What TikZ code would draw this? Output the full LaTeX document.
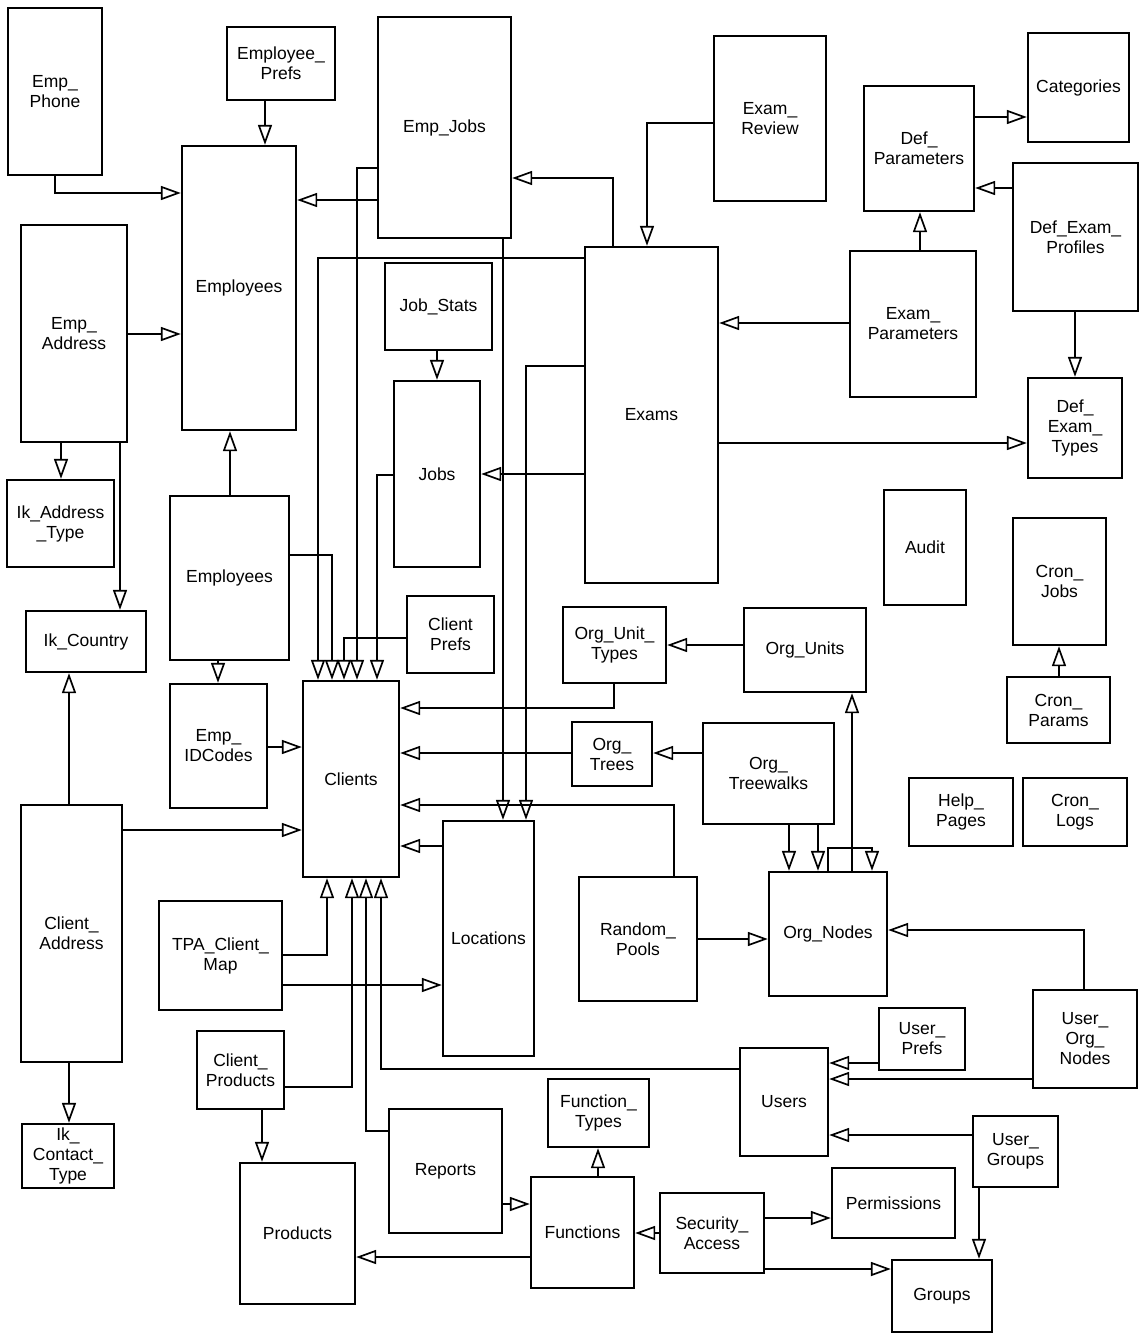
\documentclass[tikz,border=0pt]{standalone}
\usepackage{fontspec}
\setmainfont{Liberation Sans}
\usetikzlibrary{arrows.meta}
\newcommand\ent[6]{\node[ent, minimum width={#4-#2}, minimum height={#5-#3}] (#1) at ({(#2+#4)/2},{(#3+#5)/2}) {#6};}
\begin{document}
\begin{tikzpicture}[x=1pt,y=-1pt,
  ent/.style={draw, line width=2.4pt, inner sep=0pt, align=center, font=\fontsize{17.5}{20}\selectfont},
  conn/.style={line width=2.1pt, -{Triangle[length=20pt,width=14pt,fill=white,line width=1.7pt]}}]
\useasboundingbox (0,0) rectangle (1139,1342);
% entities
\ent{EmpPhone}{8}{8}{102}{175}{Emp\_\\Phone}
\ent{EmpPrefs}{227}{27}{335}{100}{Employee\_\\Prefs}
\ent{Employees}{182}{146}{296}{430}{Employees}
\ent{EmpAddress}{21}{225}{127}{442}{Emp\_\\Address}
\ent{EmpJobs}{378}{17}{511}{238}{Emp\_Jobs}
\ent{ExamReview}{714}{36}{826}{201}{Exam\_\\Review}
\ent{DefParams}{864}{86}{974}{211}{Def\_\\Parameters}
\ent{Categories}{1028}{33}{1129}{142}{Categories}
\ent{DefProfiles}{1013}{163}{1138}{311}{Def\_Exam\_\\Profiles}
\ent{ExamParams}{850}{251}{976}{397}{Exam\_\\Parameters}
\ent{DefTypes}{1028}{378}{1122}{478}{Def\_\\Exam\_\\Types}
\ent{Exams}{585}{247}{718}{583}{Exams}
\ent{JobStats}{385}{263}{492}{350}{Job\_Stats}
\ent{Jobs}{394}{381}{480}{567}{Jobs}
\ent{IkAddress}{7}{480}{114}{567}{Ik\_Address\\\_Type}
\ent{IkCountry}{26}{611}{146}{672}{Ik\_Country}
\ent{Employees2}{170}{496}{289}{660}{Employees}
\ent{EmpIDCodes}{170}{684}{267}{808}{Emp\_\\IDCodes}
\ent{Clients}{303}{681}{399}{877}{Clients}
\ent{ClientAddress}{21}{805}{122}{1062}{Client\_\\Address}
\ent{ClientPrefs}{407}{596}{494}{673}{Client\\Prefs}
\ent{OrgUnitTypes}{563}{607}{666}{683}{Org\_Unit\_\\Types}
\ent{OrgUnits}{744}{608}{866}{692}{Org\_Units}
\ent{OrgTrees}{572}{722}{652}{786}{Org\_\\Trees}
\ent{OrgTreewalks}{703}{723}{834}{824}{Org\_\\Treewalks}
\ent{Locations}{443}{821}{534}{1056}{Locations}
\ent{RandomPools}{579}{877}{697}{1001}{Random\_\\Pools}
\ent{OrgNodes}{769}{872}{887}{996}{Org\_Nodes}
\ent{Audit}{884}{490}{966}{605}{Audit}
\ent{CronJobs}{1013}{518}{1106}{645}{Cron\_\\Jobs}
\ent{CronParams}{1007}{677}{1110}{743}{Cron\_\\Params}
\ent{HelpPages}{909}{778}{1013}{846}{Help\_\\Pages}
\ent{CronLogs}{1023}{778}{1127}{846}{Cron\_\\Logs}
\ent{TPA}{159}{901}{282}{1010}{TPA\_Client\_\\Map}
\ent{ClientProducts}{197}{1031}{284}{1109}{Client\_\\Products}
\ent{IkContact}{22}{1124}{114}{1188}{Ik\_\\Contact\_\\Type}
\ent{Products}{240}{1163}{355}{1304}{Products}
\ent{Reports}{389}{1109}{502}{1233}{Reports}
\ent{FunctionTypes}{548}{1079}{649}{1147}{Function\_\\Types}
\ent{Functions}{531}{1177}{634}{1288}{Functions}
\ent{SecAccess}{660}{1193}{764}{1273}{Security\_\\Access}
\ent{Users}{740}{1048}{828}{1156}{Users}
\ent{UserPrefs}{879}{1008}{965}{1070}{User\_\\Prefs}
\ent{UserOrgNodes}{1033}{990}{1137}{1088}{User\_\\Org\_\\Nodes}
\ent{UserGroups}{973}{1116}{1058}{1187}{User\_\\Groups}
\ent{Permissions}{832}{1168}{955}{1238}{Permissions}
\ent{Groups}{892}{1260}{992}{1332}{Groups}
% connectors
\draw[conn] (55,0 |- EmpPhone.south) |- (Employees.west |- 0,193);
\draw[conn] (265,0 |- EmpPrefs.south) -- (265,0 |- Employees.north);
\draw[conn] (EmpAddress.east |- 0,334) -- (Employees.west |- 0,334);
\draw[conn] (EmpJobs.west |- 0,200) -- (Employees.east |- 0,200);
\draw[conn] (EmpJobs.west |- 0,168) -| (357,0 |- Clients.north);
\draw[conn] (503,0 |- EmpJobs.south) -- (503,0 |- Locations.north);
\draw[conn] (Exams.west |- 0,258) -| (318,0 |- Clients.north);
\draw[conn] (Exams.west |- 0,366) -| (526,0 |- Locations.north);
\draw[conn] (437,0 |- JobStats.south) -- (437,0 |- Jobs.north);
\draw[conn] (Jobs.west |- 0,475) -| (377,0 |- Clients.north);
\draw[conn] (Exams.west |- 0,474) -- (Jobs.east |- 0,474);
\draw[conn] (Employees2.east |- 0,555) -| (332,0 |- Clients.north);
\draw[conn] (ClientPrefs.west |- 0,638) -| (344,0 |- Clients.north);
\draw[conn] (EmpIDCodes.east |- 0,747) -- (Clients.west |- 0,747);
\draw[conn] (ClientAddress.east |- 0,830) -- (Clients.west |- 0,830);
\draw[conn] (614,0 |- OrgUnitTypes.south) |- (Clients.east |- 0,708);
\draw[conn] (OrgTrees.west |- 0,753) -- (Clients.east |- 0,753);
\draw[conn] (674,0 |- RandomPools.north) |- (Clients.east |- 0,805);
\draw[conn] (Locations.west |- 0,846) -- (Clients.east |- 0,846);
\draw[conn] (TPA.east |- 0,955) -| (327,0 |- Clients.south);
\draw[conn] (TPA.east |- 0,985) -- (Locations.west |- 0,985);
\draw[conn] (ClientProducts.east |- 0,1087) -| (352,0 |- Clients.south);
\draw[conn] (Reports.west |- 0,1131) -| (366,0 |- Clients.south);
\draw[conn] (Users.west |- 0,1069) -| (381,0 |- Clients.south);
\draw[conn] (262,0 |- ClientProducts.south) -- (262,0 |- Products.north);
\draw[conn] (Functions.west |- 0,1257) -- (Products.east |- 0,1257);
\draw[conn] (Reports.east |- 0,1204) -- (Functions.west |- 0,1204);
\draw[conn] (598,0 |- Functions.north) -- (598,0 |- FunctionTypes.south);
\draw[conn] (SecAccess.west |- 0,1233) -- (Functions.east |- 0,1233);
\draw[conn] (SecAccess.east |- 0,1218) -- (Permissions.west |- 0,1218);
\draw[conn] (SecAccess.east |- 0,1269) -- (Groups.west |- 0,1269);
\draw[conn] (979,0 |- UserGroups.south) -- (979,0 |- Groups.north);
\draw[conn] (UserGroups.west |- 0,1135) -- (Users.east |- 0,1135);
\draw[conn] (UserPrefs.west |- 0,1063) -- (Users.east |- 0,1063);
\draw[conn] (UserOrgNodes.west |- 0,1079) -- (Users.east |- 0,1079);
\draw[conn] (1084,0 |- UserOrgNodes.north) |- (OrgNodes.east |- 0,930);
\draw[conn] (RandomPools.east |- 0,939) -- (OrgNodes.west |- 0,939);
\draw[conn] (789,0 |- OrgTreewalks.south) -- (789,0 |- OrgNodes.north);
\draw[conn] (818,0 |- OrgTreewalks.south) -- (818,0 |- OrgNodes.north);
\draw[conn] (828,0 |- OrgNodes.north) |- (872,848) -- (872,0 |- OrgNodes.north);
\draw[conn] (852,0 |- OrgNodes.north) -- (852,0 |- OrgUnits.south);
\draw[conn] (OrgUnits.west |- 0,645) -- (OrgUnitTypes.east |- 0,645);
\draw[conn] (OrgTreewalks.west |- 0,753) -- (OrgTrees.east |- 0,753);
\draw[conn] (1059,0 |- CronParams.north) -- (1059,0 |- CronJobs.south);
\draw[conn] (ExamReview.west |- 0,123) -| (647,0 |- Exams.north);
\draw[conn] (613,0 |- Exams.north) |- (EmpJobs.east |- 0,178);
\draw[conn] (ExamParams.west |- 0,323) -- (Exams.east |- 0,323);
\draw[conn] (920,0 |- ExamParams.north) -- (920,0 |- DefParams.south);
\draw[conn] (DefParams.east |- 0,117) -- (Categories.west |- 0,117);
\draw[conn] (DefProfiles.west |- 0,188) -- (DefParams.east |- 0,188);
\draw[conn] (1075,0 |- DefProfiles.south) -- (1075,0 |- DefTypes.north);
\draw[conn] (Exams.east |- 0,443) -- (DefTypes.west |- 0,443);
\draw[conn] (230,0 |- Employees2.north) -- (230,0 |- Employees.south);
\draw[conn] (218,0 |- Employees2.south) -- (218,0 |- EmpIDCodes.north);
\draw[conn] (61,0 |- EmpAddress.south) -- (61,0 |- IkAddress.north);
\draw[conn] (120,0 |- EmpAddress.south) -- (120,0 |- IkCountry.north);
\draw[conn] (69,0 |- ClientAddress.north) -- (69,0 |- IkCountry.south);
\draw[conn] (69,0 |- ClientAddress.south) -- (69,0 |- IkContact.north);
\end{tikzpicture}
\end{document}
